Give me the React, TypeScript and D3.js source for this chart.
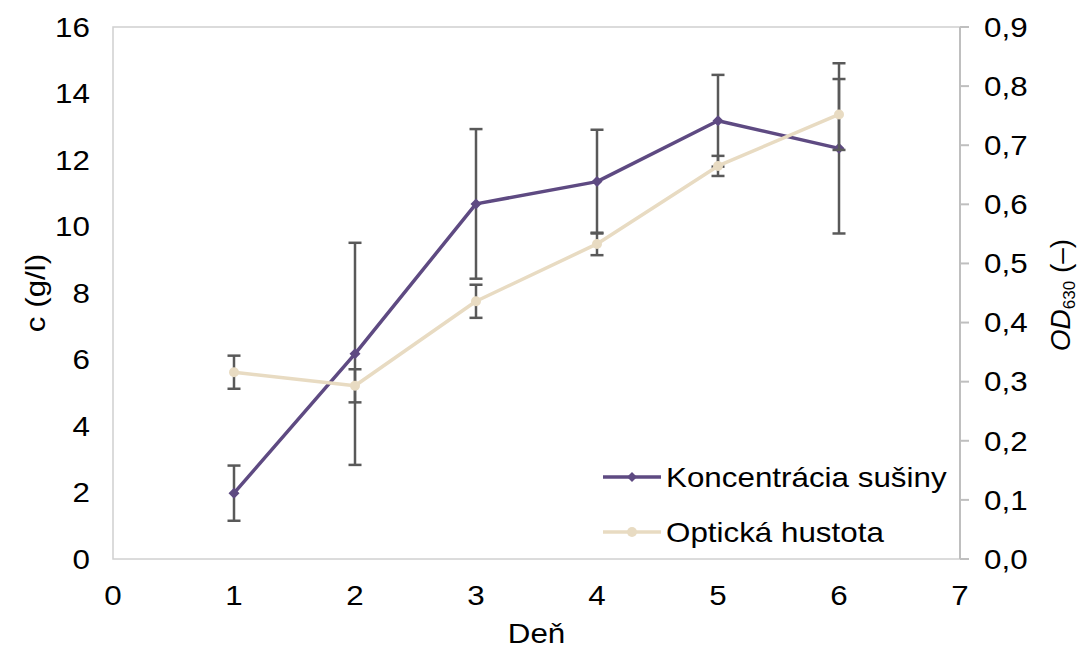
import React from "react";
import * as d3 from "d3";

const days = [1, 2, 3, 4, 5, 6];
const conc = [1.98, 6.17, 10.68, 11.35, 13.18, 12.35];
const concErr = [0.83, 3.34, 2.25, 1.56, 1.38, 2.56];
const od = [0.316, 0.293, 0.436, 0.533, 0.665, 0.752];
const odErr = [0.028, 0.028, 0.028, 0.019, 0.017, 0.06];
const xTicks = [0, 1, 2, 3, 4, 5, 6, 7];
const yLeftTicks = [0, 2, 4, 6, 8, 10, 12, 14, 16];
const yRightTicks = [0, 0.1, 0.2, 0.3, 0.4, 0.5, 0.6, 0.7, 0.8, 0.9];
const seriesNames = ["Koncentrácia sušiny", "Optická hustota"];

const W = 1079;
const H = 648;
const L = 113, R = 960, T = 27, B = 559;
const PURPLE = "#5e4a82";
const BEIGE = "#e8dbc2";
const ERR = "#595959";
const FONT = "'Liberation Sans', Arial, sans-serif";
const FS = 28;
const SX = 1.12;

function T2({ x, y, anchor = "start", rot = 0, children, dy = "0.35em" }: any) {
  return (
    <text
      transform={`translate(${x},${y}) rotate(${rot}) scale(${SX},1)`}
      dy={dy}
      textAnchor={anchor}
      fontSize={FS}
      fill="#000"
    >
      {children}
    </text>
  );
}

export default function App() {
  const x = d3.scaleLinear().domain([0, 7]).range([L, R]);
  const yL = d3.scaleLinear().domain([0, 16]).range([B, T]);
  const yR = d3.scaleLinear().domain([0, 0.9]).range([B, T]);
  const lineC = d3.line<number>().x((_, i) => x(days[i])).y((d) => yL(d));
  const lineO = d3.line<number>().x((_, i) => x(days[i])).y((d) => yR(d));
  const fmt = (v: number) => v.toFixed(1).replace(".", ",");
  const cap = 6.5;

  const errBars = (vals: number[], errs: number[], y: d3.ScaleLinear<number, number>) =>
    vals.map((v, i) => {
      const cx = x(days[i]);
      const y1 = y(v + errs[i]);
      const y2 = y(v - errs[i]);
      return (
        <g key={i} stroke={ERR} strokeWidth={2.5}>
          <line x1={cx} x2={cx} y1={y1} y2={y2} />
          <line x1={cx - cap} x2={cx + cap} y1={y1} y2={y1} />
          <line x1={cx - cap} x2={cx + cap} y1={y2} y2={y2} />
        </g>
      );
    });

  const diamond = (cx: number, cy: number, r: number) =>
    `M${cx},${cy - r}L${cx + r},${cy}L${cx},${cy + r}L${cx - r},${cy}Z`;

  return (
    <svg width={W} height={H} style={{ position: "absolute", left: 0, top: 0, background: "#fff" }} fontFamily={FONT}>
      <rect x={0} y={0} width={W} height={H} fill="#fff" />
      {/* plot border */}
      <rect x={L} y={T} width={R - L} height={B - T} fill="none" stroke="#d0d0d0" strokeWidth={1.5} />
      {/* right axis */}
      <line x1={R} x2={R} y1={T} y2={B} stroke="#bfbfbf" strokeWidth={2} />
      {yRightTicks.map((t) => (
        <line key={t} x1={R} x2={R + 9} y1={yR(t)} y2={yR(t)} stroke="#bfbfbf" strokeWidth={2} />
      ))}
      {/* left tick labels */}
      {yLeftTicks.map((t) => (
        <T2 key={t} x={90} y={yL(t)} anchor="end">{t}</T2>
      ))}
      {/* right tick labels */}
      {yRightTicks.map((t) => (
        <T2 key={t} x={984} y={yR(t)} anchor="start">{fmt(t)}</T2>
      ))}
      {/* x tick labels */}
      {xTicks.map((t) => (
        <T2 key={t} x={x(t)} y={605} anchor="middle" dy="0">{t}</T2>
      ))}
      {/* axis titles */}
      <T2 x={(L + R) / 2} y={643} anchor="middle" dy="0">Deň</T2>
      <T2 x={45} y={293} rot={-90} anchor="middle" dy="0">c (g/l)</T2>
      <text
        transform={`translate(1070,295) rotate(-90)`}
        textAnchor="middle"
        fontSize={FS}
        fill="#000"
      >
        <tspan fontStyle="italic">OD</tspan>
        <tspan fontSize={17} dy={5}>630</tspan>
        <tspan dy={-5}> (–)</tspan>
      </text>

      {/* series 1 */}
      {errBars(conc, concErr, yL)}
      <path d={lineC(conc) || ""} fill="none" stroke={PURPLE} strokeWidth={3.5} strokeLinejoin="round" />
      {conc.map((v, i) => (
        <path key={i} d={diamond(x(days[i]), yL(v), 5.5)} fill={PURPLE} />
      ))}
      {/* series 2 */}
      {errBars(od, odErr, yR)}
      <path d={lineO(od) || ""} fill="none" stroke={BEIGE} strokeWidth={3.5} strokeLinejoin="round" />
      {od.map((v, i) => (
        <circle key={i} cx={x(days[i])} cy={yR(v)} r={5} fill={BEIGE} />
      ))}

      {/* legend */}
      <line x1={603} x2={661} y1={477} y2={477} stroke={PURPLE} strokeWidth={3.5} />
      <path d={diamond(632, 477, 5)} fill={PURPLE} />
      <T2 x={666} y={477}>{seriesNames[0]}</T2>
      <line x1={603} x2={661} y1={532} y2={532} stroke={BEIGE} strokeWidth={3.5} />
      <circle cx={632} cy={532} r={5} fill={BEIGE} />
      <T2 x={666} y={532}>{seriesNames[1]}</T2>
    </svg>
  );
}
